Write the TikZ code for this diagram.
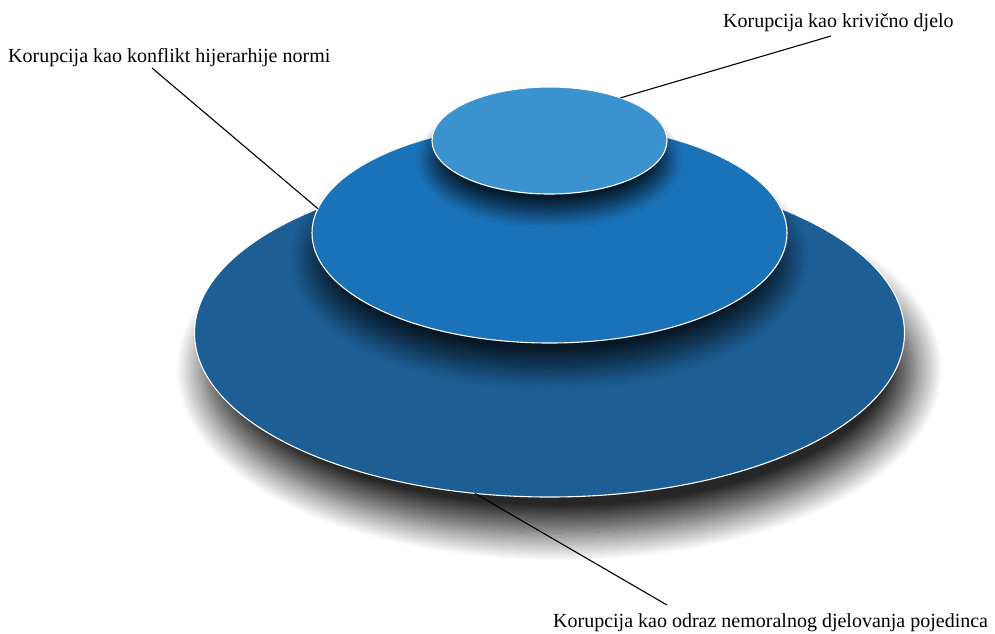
\documentclass[tikz,border=0pt]{standalone}
\usepackage{fontspec}
\setmainfont{Liberation Serif}
\usetikzlibrary{shapes.geometric,shadows.blur}
\definecolor{topblue}{HTML}{3A92CF}
\definecolor{midblue}{HTML}{1A72B8}
\definecolor{lowblue}{HTML}{1D5E94}
\begin{document}
\begin{tikzpicture}[x=1pt,y=-1pt,
    disc/.style={ellipse, draw=white, line width=1.1pt, inner sep=0pt, outer sep=0pt},
    lbl/.style={anchor=base west, inner sep=0pt, font=\fontsize{20}{24}\selectfont},
    lead/.style={line width=1.1pt, black}]
    \useasboundingbox (0,0) rectangle (995,633);
    % the three discs, from the bottom up
    \node[disc, fill=lowblue, minimum width=710pt, minimum height=328pt,
        blur shadow={shadow xshift=10pt, shadow yshift=-36pt, shadow blur radius=28pt, shadow blur steps=28, shadow opacity=85}] (base) at (549.5,333) {};
    \node[disc, fill=midblue, minimum width=475pt, minimum height=220pt,
        blur shadow={shadow xshift=0pt, shadow yshift=-25pt, shadow blur radius=21pt, shadow blur steps=28, shadow opacity=75}] (middle) at (549.5,233) {};
    \node[disc, fill=topblue, minimum width=235pt, minimum height=107pt,
        blur shadow={shadow xshift=0pt, shadow yshift=-19pt, shadow blur radius=15pt, shadow blur steps=28, shadow opacity=75}] (top) at (549.5,140.5) {};
    % labels
    \node[lbl] (krivicno) at (723,27) {Korupcija kao krivično djelo};
    \node[lbl] (konflikt) at (8,62) {Korupcija kao konflikt hijerarhije normi};
    \node[lbl] (odraz) at (553,627) {Korupcija kao odraz nemoralnog djelovanja pojedinca};
    \coordinate (krivicnoend) at (831,36);
    \coordinate (konfliktend) at (152,68);
    \coordinate (odrazend) at (667,605);
    % leader lines
    \draw[lead] (top.31) -- (krivicnoend);
    \draw[lead] (middle.174.8) -- (konfliktend);
    \draw[lead] (base.245.3) -- (odrazend);
\end{tikzpicture}
\end{document}
